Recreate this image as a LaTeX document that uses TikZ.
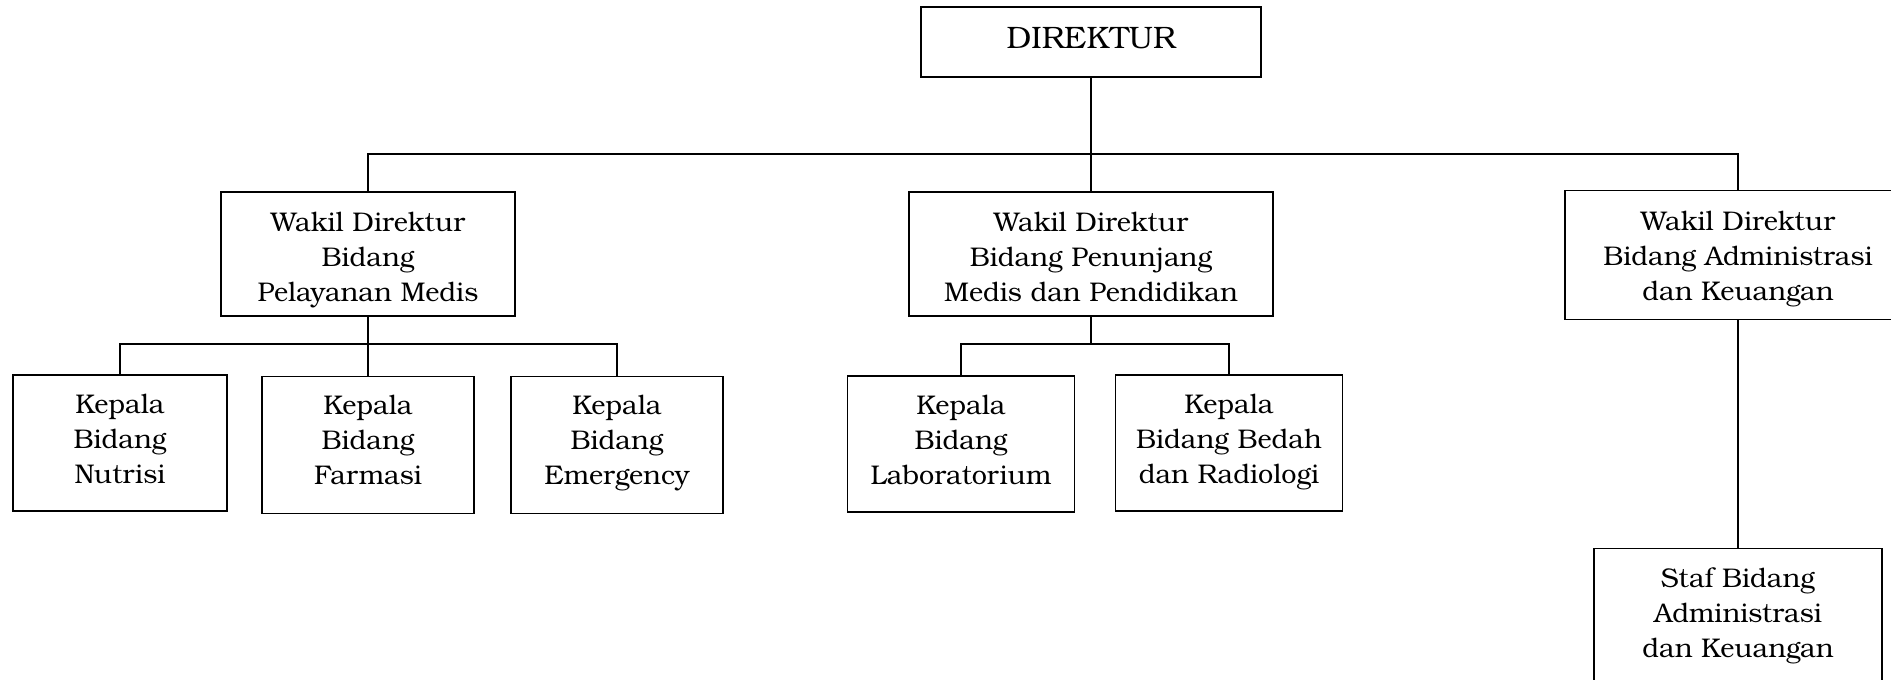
\documentclass[tikz,border=0pt]{standalone}
\usepackage{fontspec}
\setmainfont{texgyrebonum}[Extension=.otf, UprightFont=*-regular]
\begin{document}
\begin{tikzpicture}[x=1pt,y=-1pt,
  box/.style={draw, line width=1.9pt, rectangle, inner sep=0pt, outer sep=0pt},
  ln/.style={line width=1.9pt}]
\newcommand{\bx}[4]{\parbox[c][#2pt][t]{#1pt}{\centering\fontsize{27}{35}\selectfont\rule{0pt}{#3pt}#4}}
\useasboundingbox (0,0) rectangle (1891,680);
\node[box] (dir) at (1091,42) {\parbox[c][70pt][t]{340pt}{\centering\fontsize{31}{35}\selectfont\rule{0pt}{41pt}DIREKTUR}};
\node[box] (w1) at (368,254) {\bx{294}{124}{39}{Wakil Direktur\\Bidang\\Pelayanan Medis}};
\node[box] (w2) at (1091,254) {\bx{364}{124}{39}{Wakil Direktur\\Bidang Penunjang\\Medis dan Pendidikan}};
\node[box] (w3) at (1738,255) {\bx{346}{129}{40}{Wakil Direktur\\Bidang Administrasi\\dan Keuangan}};
\node[box] (nut) at (120,443) {\bx{214}{136}{38}{Kepala\\Bidang\\Nutrisi}};
\node[box] (far) at (368,445) {\bx{212}{137}{38}{Kepala\\Bidang\\Farmasi}};
\node[box] (eme) at (617,445) {\bx{212}{137}{38}{Kepala\\Bidang\\Emergency}};
\node[box] (lab) at (961,444) {\bx{227}{136}{38}{Kepala\\Bidang\\Laboratorium}};
\node[box] (bed) at (1229,443) {\bx{227}{136}{38}{Kepala\\Bidang Bedah\\dan Radiologi}};
\node[box] (staf) at (1738,619) {\bx{288}{141}{39}{Staf Bidang\\Administrasi\\dan Keuangan}};
\coordinate (bus) at (1091,154);
\coordinate (b1) at (368,344);
\coordinate (b2) at (1091,344);
\draw[ln] (dir.south) -- (w2.north);
\draw[ln] (w1.north) |- (bus) -| (w3.north);
\draw[ln] (w1.south) -- (far.north);
\draw[ln] (nut.north) |- (b1) -| (eme.north);
\draw[ln] (w2.south) -- (b2);
\draw[ln] (lab.north) |- (b2) -| (bed.north);
\draw[ln] (w3.south) -- (staf.north);
\end{tikzpicture}
\end{document}
